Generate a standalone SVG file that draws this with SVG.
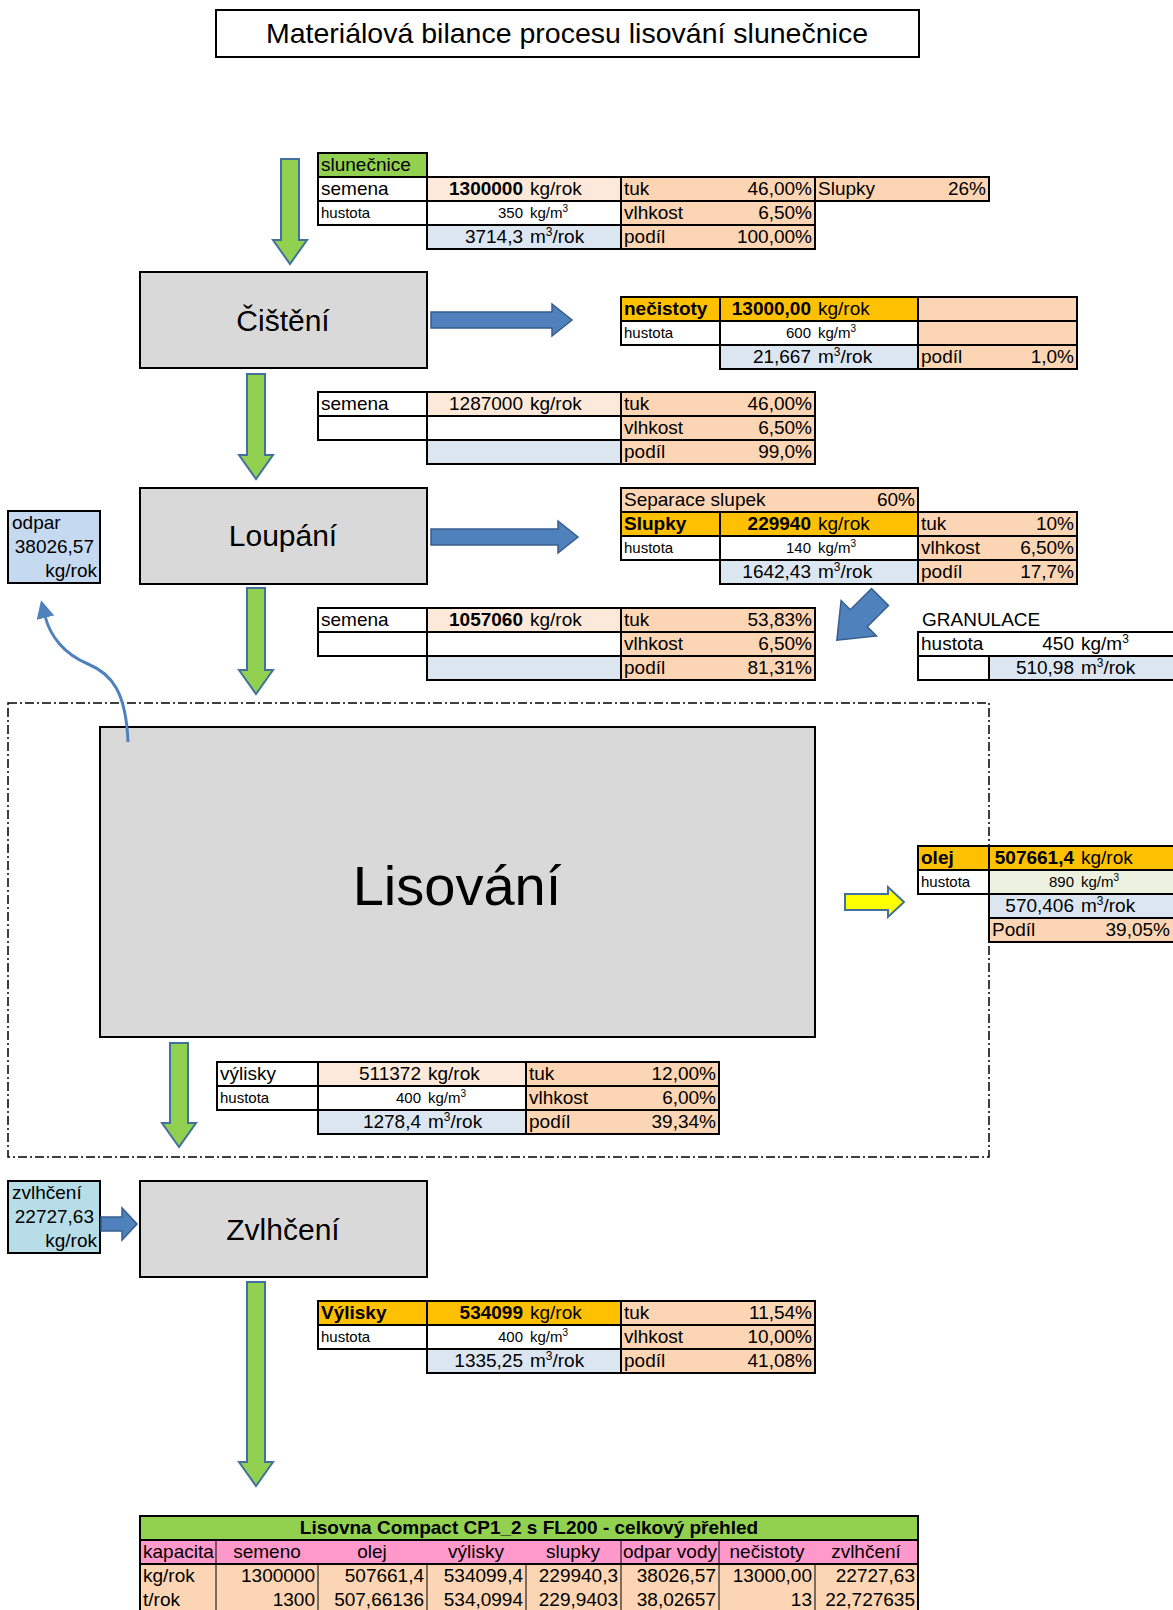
<svg xmlns="http://www.w3.org/2000/svg" width="1173" height="1610" viewBox="0 0 1173 1610">
<style>
text{font-family:"Liberation Sans",Arial,sans-serif;font-size:19px;fill:#000}
.s{font-size:15px}
.b{font-weight:bold}
.e{text-anchor:end}
.m{text-anchor:middle}
.c{stroke:#000;stroke-width:2}
.w{fill:#fff}.pe{fill:#FCD5B4}.lp{fill:#FDE9D9}.or{fill:#FFC000}.lb{fill:#DCE6F1}.gr{fill:#92D050}.lg{fill:#EBF1DE}.pk{fill:#FF99CC}
.box{fill:#D9D9D9;stroke:#000;stroke-width:2}
.ga{fill:#92D050;stroke:#41719C;stroke-width:2}
.ba{fill:#4F81BD;stroke:#385D8A;stroke-width:1.5}
.ya{fill:#FFFF00;stroke:#41719C;stroke-width:2}
.thin{stroke:#000;stroke-width:1}
</style>
<defs>
<marker id="ah" viewBox="0 0 10 10" refX="1" refY="5" markerWidth="6" markerHeight="6" orient="auto">
<path d="M0,0 L10,5 L0,10 Z" fill="#4F81BD"/>
</marker>
</defs>

<g id="title">
<rect x="216" y="10" width="703" height="47" fill="#fff" stroke="#000" stroke-width="2"/>
<text x="567" y="43" class="m" style="font-size:28.5px">Materiálová bilance procesu lisování slunečnice</text>
</g>

<g id="frame-lisovani">
<rect x="8" y="703" width="981" height="454" fill="none" stroke="#000" stroke-width="1.5" stroke-dasharray="9,3,2,3"/>
</g>

<g id="node-cisteni">
<rect class="box" x="140" y="272" width="287" height="96"/>
<text x="283" y="331" class="m" style="font-size:30px">Čištění</text>
</g>
<g id="node-loupani">
<rect class="box" x="140" y="488" width="287" height="96"/>
<text x="283" y="546" class="m" style="font-size:30px">Loupání</text>
</g>
<g id="node-lisovani">
<rect class="box" x="100" y="727" width="715" height="310"/>
<text x="457" y="905" class="m" style="font-size:56px">Lisování</text>
</g>
<g id="node-zvlhceni">
<rect class="box" x="140" y="1181" width="287" height="96"/>
<text x="283" y="1240" class="m" style="font-size:30px">Zvlhčení</text>
</g>

<g id="node-odpar">
<rect x="8" y="511" width="92" height="72" fill="#C5D9F1" stroke="#000" stroke-width="2"/>
<text x="12" y="529">odpar</text>
<text x="94" y="553" class="e">38026,57</text>
<text x="97" y="577" class="e">kg/rok</text>
</g>
<g id="node-zvlhceni-in">
<rect x="8" y="1181" width="92" height="72" fill="#B7DEE8" stroke="#000" stroke-width="2"/>
<text x="12" y="1199">zvlhčení</text>
<text x="94" y="1223" class="e">22727,63</text>
<text x="97" y="1247" class="e">kg/rok</text>
</g>

<g id="connectors">
<path class="ga" d="M281,159 H299 V240 H307 L290,264 L273,240 H281 Z"/>
<path class="ga" d="M247,374 H265 V455 H273 L256,479 L239,455 H247 Z"/>
<path class="ga" d="M247,588 H265 V670 H273 L256,694 L239,670 H247 Z"/>
<path class="ga" d="M170,1043 H188 V1123 H196 L179,1147 L162,1123 H170 Z"/>
<path class="ga" d="M247,1282 H265 V1462 H273 L256,1486 L239,1462 H247 Z"/>
<path class="ba" d="M431,312 H552 V304 L572,320 L552,336 V328 H431 Z"/>
<path class="ba" d="M431,529 H558 V521 L578,537 L558,553 V545 H431 Z"/>
<path class="ba" d="M101,1217 H122 V1208 L137,1224 L122,1240 V1231 H101 Z"/>
<path class="ya" d="M845,894 H888 V887 L904,902 L888,917 V910 H845 Z"/>
<path class="ba" transform="translate(880,597) rotate(135)" d="M0,-12 H30 V-25 L61,0 L30,25 V12 H0 Z"/>
<path d="M128,742 C126,692 112,674 88,664 C64,654 50,636 45,616" fill="none" stroke="#4F81BD" stroke-width="3" marker-end="url(#ah)"/>
</g>

<g id="tbl-slunecnice">
<rect class="c gr" x="318" y="153" width="109" height="24"/>
<text x="321" y="171">slunečnice</text>
<rect class="c w" x="318" y="177" width="109" height="24"/>
<text x="321" y="195">semena</text>
<rect class="c lp" x="427" y="177" width="194" height="24"/>
<text x="523" y="195" class="e b">1300000</text><text x="530" y="195">kg/rok</text>
<rect class="c pe" x="621" y="177" width="194" height="24"/>
<text x="624" y="195">tuk</text><text x="812" y="195" class="e">46,00%</text>
<rect class="c pe" x="815" y="177" width="174" height="24"/>
<text x="818" y="195">Slupky</text><text x="986" y="195" class="e">26%</text>
<rect class="c w" x="318" y="201" width="109" height="24"/>
<text x="321" y="218" class="s">hustota</text>
<rect class="c w" x="427" y="201" width="194" height="24"/>
<text x="523" y="218" class="s e">350</text><text x="530" y="218" class="s">kg/m<tspan dy="-6" style="font-size:10px">3</tspan></text>
<rect class="c pe" x="621" y="201" width="194" height="24"/>
<text x="624" y="219">vlhkost</text><text x="812" y="219" class="e">6,50%</text>
<rect class="c lb" x="427" y="225" width="194" height="24"/>
<text x="523" y="243" class="e">3714,3</text><text x="530" y="243">m<tspan dy="-7" style="font-size:12px">3</tspan><tspan dy="7">/rok</tspan></text>
<rect class="c pe" x="621" y="225" width="194" height="24"/>
<text x="624" y="243">podíl</text><text x="812" y="243" class="e">100,00%</text>
</g>

<g id="tbl-necistoty">
<rect class="c or" x="621" y="297" width="99" height="24"/>
<text x="624" y="315" class="b">nečistoty</text>
<rect class="c or" x="720" y="297" width="198" height="24"/>
<text x="811" y="315" class="e b">13000,00</text><text x="818" y="315">kg/rok</text>
<rect class="c pe" x="918" y="297" width="159" height="24"/>
<rect class="c w" x="621" y="321" width="99" height="24"/>
<text x="624" y="338" class="s">hustota</text>
<rect class="c w" x="720" y="321" width="198" height="24"/>
<text x="811" y="338" class="s e">600</text><text x="818" y="338" class="s">kg/m<tspan dy="-6" style="font-size:10px">3</tspan></text>
<rect class="c pe" x="918" y="321" width="159" height="24"/>
<rect class="c lb" x="720" y="345" width="198" height="24"/>
<text x="811" y="363" class="e">21,667</text><text x="818" y="363">m<tspan dy="-7" style="font-size:12px">3</tspan><tspan dy="7">/rok</tspan></text>
<rect class="c pe" x="918" y="345" width="159" height="24"/>
<text x="921" y="363">podíl</text><text x="1074" y="363" class="e">1,0%</text>
</g>

<g id="tbl-semena-2">
<rect class="c w" x="318" y="392" width="109" height="24"/>
<text x="321" y="410">semena</text>
<rect class="c lp" x="427" y="392" width="194" height="24"/>
<text x="523" y="410" class="e">1287000</text><text x="530" y="410">kg/rok</text>
<rect class="c pe" x="621" y="392" width="194" height="24"/>
<text x="624" y="410">tuk</text><text x="812" y="410" class="e">46,00%</text>
<rect class="c w" x="318" y="416" width="109" height="24"/>
<rect class="c w" x="427" y="416" width="194" height="24"/>
<rect class="c pe" x="621" y="416" width="194" height="24"/>
<text x="624" y="434">vlhkost</text><text x="812" y="434" class="e">6,50%</text>
<rect class="c lb" x="427" y="440" width="194" height="24"/>
<rect class="c pe" x="621" y="440" width="194" height="24"/>
<text x="624" y="458">podíl</text><text x="812" y="458" class="e">99,0%</text>
</g>

<g id="tbl-slupky">
<rect class="c pe" x="621" y="488" width="297" height="24"/>
<text x="624" y="506">Separace slupek</text><text x="915" y="506" class="e">60%</text>
<rect class="c or" x="621" y="512" width="99" height="24"/>
<text x="624" y="530" class="b">Slupky</text>
<rect class="c or" x="720" y="512" width="198" height="24"/>
<text x="811" y="530" class="e b">229940</text><text x="818" y="530">kg/rok</text>
<rect class="c pe" x="918" y="512" width="159" height="24"/>
<text x="921" y="530">tuk</text><text x="1074" y="530" class="e">10%</text>
<rect class="c w" x="621" y="536" width="99" height="24"/>
<text x="624" y="553" class="s">hustota</text>
<rect class="c w" x="720" y="536" width="198" height="24"/>
<text x="811" y="553" class="s e">140</text><text x="818" y="553" class="s">kg/m<tspan dy="-6" style="font-size:10px">3</tspan></text>
<rect class="c pe" x="918" y="536" width="159" height="24"/>
<text x="921" y="554">vlhkost</text><text x="1074" y="554" class="e">6,50%</text>
<rect class="c lb" x="720" y="560" width="198" height="24"/>
<text x="811" y="578" class="e">1642,43</text><text x="818" y="578">m<tspan dy="-7" style="font-size:12px">3</tspan><tspan dy="7">/rok</tspan></text>
<rect class="c pe" x="918" y="560" width="159" height="24"/>
<text x="921" y="578">podíl</text><text x="1074" y="578" class="e">17,7%</text>
</g>

<g id="tbl-granulace">
<text x="922" y="626">GRANULACE</text>
<rect class="c w" x="918" y="632" width="262" height="24"/>
<text x="921" y="650">hustota</text>
<text x="1074" y="650" class="e">450</text><text x="1081" y="650">kg/m<tspan dy="-7" style="font-size:12px">3</tspan></text>
<rect class="c w" x="918" y="656" width="71" height="24"/>
<rect class="c lb" x="989" y="656" width="191" height="24"/>
<text x="1074" y="674" class="e">510,98</text><text x="1081" y="674">m<tspan dy="-7" style="font-size:12px">3</tspan><tspan dy="7">/rok</tspan></text>
</g>

<g id="tbl-semena-3">
<rect class="c w" x="318" y="608" width="109" height="24"/>
<text x="321" y="626">semena</text>
<rect class="c lp" x="427" y="608" width="194" height="24"/>
<text x="523" y="626" class="e b">1057060</text><text x="530" y="626">kg/rok</text>
<rect class="c pe" x="621" y="608" width="194" height="24"/>
<text x="624" y="626">tuk</text><text x="812" y="626" class="e">53,83%</text>
<rect class="c w" x="318" y="632" width="109" height="24"/>
<rect class="c w" x="427" y="632" width="194" height="24"/>
<rect class="c pe" x="621" y="632" width="194" height="24"/>
<text x="624" y="650">vlhkost</text><text x="812" y="650" class="e">6,50%</text>
<rect class="c lb" x="427" y="656" width="194" height="24"/>
<rect class="c pe" x="621" y="656" width="194" height="24"/>
<text x="624" y="674">podíl</text><text x="812" y="674" class="e">81,31%</text>
</g>

<g id="tbl-olej">
<rect class="c or" x="918" y="846" width="71" height="24"/>
<text x="921" y="864" class="b">olej</text>
<rect class="c or" x="989" y="846" width="191" height="24"/>
<text x="1074" y="864" class="e b">507661,4</text><text x="1081" y="864">kg/rok</text>
<rect class="c w" x="918" y="870" width="71" height="24"/>
<text x="921" y="887" class="s">hustota</text>
<rect class="c lg" x="989" y="870" width="191" height="24"/>
<text x="1074" y="887" class="s e">890</text><text x="1081" y="887" class="s">kg/m<tspan dy="-6" style="font-size:10px">3</tspan></text>
<rect class="c lb" x="989" y="894" width="191" height="24"/>
<text x="1074" y="912" class="e">570,406</text><text x="1081" y="912">m<tspan dy="-7" style="font-size:12px">3</tspan><tspan dy="7">/rok</tspan></text>
<rect class="c pe" x="989" y="918" width="191" height="24"/>
<text x="992" y="936">Podíl</text><text x="1170" y="936" class="e">39,05%</text>
</g>

<g id="tbl-vylisky">
<rect class="c w" x="217" y="1062" width="101" height="24"/>
<text x="220" y="1080">výlisky</text>
<rect class="c lp" x="318" y="1062" width="208" height="24"/>
<text x="421" y="1080" class="e">511372</text><text x="428" y="1080">kg/rok</text>
<rect class="c pe" x="526" y="1062" width="193" height="24"/>
<text x="529" y="1080">tuk</text><text x="716" y="1080" class="e">12,00%</text>
<rect class="c w" x="217" y="1086" width="101" height="24"/>
<text x="220" y="1103" class="s">hustota</text>
<rect class="c w" x="318" y="1086" width="208" height="24"/>
<text x="421" y="1103" class="s e">400</text><text x="428" y="1103" class="s">kg/m<tspan dy="-6" style="font-size:10px">3</tspan></text>
<rect class="c pe" x="526" y="1086" width="193" height="24"/>
<text x="529" y="1104">vlhkost</text><text x="716" y="1104" class="e">6,00%</text>
<rect class="c lb" x="318" y="1110" width="208" height="24"/>
<text x="421" y="1128" class="e">1278,4</text><text x="428" y="1128">m<tspan dy="-7" style="font-size:12px">3</tspan><tspan dy="7">/rok</tspan></text>
<rect class="c pe" x="526" y="1110" width="193" height="24"/>
<text x="529" y="1128">podíl</text><text x="716" y="1128" class="e">39,34%</text>
</g>

<g id="tbl-vylisky-final">
<rect class="c or" x="318" y="1301" width="109" height="24"/>
<text x="321" y="1319" class="b">Výlisky</text>
<rect class="c or" x="427" y="1301" width="194" height="24"/>
<text x="523" y="1319" class="e b">534099</text><text x="530" y="1319">kg/rok</text>
<rect class="c pe" x="621" y="1301" width="194" height="24"/>
<text x="624" y="1319">tuk</text><text x="812" y="1319" class="e">11,54%</text>
<rect class="c w" x="318" y="1325" width="109" height="24"/>
<text x="321" y="1342" class="s">hustota</text>
<rect class="c w" x="427" y="1325" width="194" height="24"/>
<text x="523" y="1342" class="s e">400</text><text x="530" y="1342" class="s">kg/m<tspan dy="-6" style="font-size:10px">3</tspan></text>
<rect class="c pe" x="621" y="1325" width="194" height="24"/>
<text x="624" y="1343">vlhkost</text><text x="812" y="1343" class="e">10,00%</text>
<rect class="c lb" x="427" y="1349" width="194" height="24"/>
<text x="523" y="1367" class="e">1335,25</text><text x="530" y="1367">m<tspan dy="-7" style="font-size:12px">3</tspan><tspan dy="7">/rok</tspan></text>
<rect class="c pe" x="621" y="1349" width="194" height="24"/>
<text x="624" y="1367">podíl</text><text x="812" y="1367" class="e">41,08%</text>
</g>

<g id="tbl-prehled">
<rect class="c gr" x="140" y="1516" width="778" height="24"/>
<text x="529" y="1534" class="m b">Lisovna Compact CP1_2 s FL200 - celkový přehled</text>
<rect class="c pk" x="140" y="1540" width="778" height="24"/>
<rect class="c pe" x="140" y="1564" width="778" height="50"/>
<g class="thin">
<line x1="216" y1="1540" x2="216" y2="1612"/>
<line x1="318" y1="1564" x2="318" y2="1612"/>
<line x1="427" y1="1564" x2="427" y2="1612"/>
<line x1="526" y1="1564" x2="526" y2="1612"/>
<line x1="621" y1="1540" x2="621" y2="1612"/>
<line x1="719" y1="1540" x2="719" y2="1612"/>
<line x1="815" y1="1564" x2="815" y2="1612"/>
</g>
<text x="143" y="1558">kapacita</text>
<text x="267" y="1558" class="m">semeno</text>
<text x="372" y="1558" class="m">olej</text>
<text x="476" y="1558" class="m">výlisky</text>
<text x="573" y="1558" class="m">slupky</text>
<text x="670" y="1558" class="m">odpar vody</text>
<text x="767" y="1558" class="m">nečistoty</text>
<text x="866" y="1558" class="m">zvlhčení</text>
<text x="143" y="1582">kg/rok</text>
<text x="315" y="1582" class="e">1300000</text>
<text x="424" y="1582" class="e">507661,4</text>
<text x="523" y="1582" class="e">534099,4</text>
<text x="618" y="1582" class="e">229940,3</text>
<text x="716" y="1582" class="e">38026,57</text>
<text x="812" y="1582" class="e">13000,00</text>
<text x="915" y="1582" class="e">22727,63</text>
<text x="143" y="1606">t/rok</text>
<text x="315" y="1606" class="e">1300</text>
<text x="424" y="1606" class="e">507,66136</text>
<text x="523" y="1606" class="e">534,0994</text>
<text x="618" y="1606" class="e">229,9403</text>
<text x="716" y="1606" class="e">38,02657</text>
<text x="812" y="1606" class="e">13</text>
<text x="915" y="1606" class="e">22,727635</text>
</g>
</svg>
